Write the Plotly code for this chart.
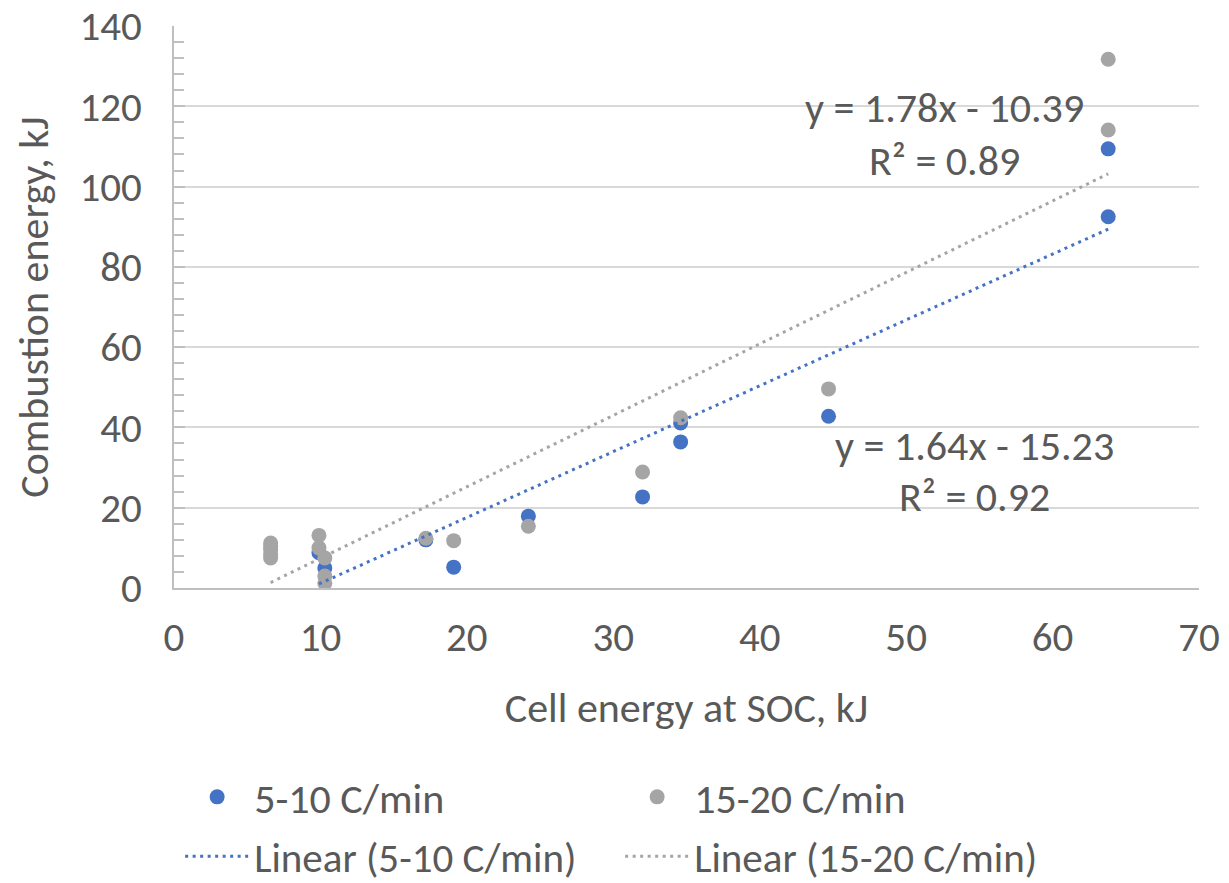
import plotly.graph_objects as go

# ---- data ----
blue_name = "5-10 C/min"
grey_name = "15-20 C/min"
blue_x = [9.9, 10.3, 17.2, 19.1, 24.2, 32.0, 34.6, 34.6, 44.7, 63.8, 63.8]
blue_y = [8.8, 5.0, 12.0, 5.2, 17.9, 22.7, 41.1, 36.4, 42.8, 109.4, 92.5]
grey_x = [6.6, 6.6, 6.6, 6.6, 6.6, 9.9, 9.9, 10.3, 10.3, 10.3, 17.2, 19.1, 24.2, 32.0, 34.6, 44.7, 63.8, 63.8]
grey_y = [11.2, 10.3, 9.5, 8.4, 7.5, 13.1, 10.0, 7.5, 3.0, 1.2, 12.4, 11.8, 15.4, 28.9, 42.4, 49.6, 131.7, 114.1]
fit_slope = [1.64, 1.78]
fit_intercept = [-15.23, -10.39]
fit_r2 = [0.92, 0.89]
x_ticks = [0, 10, 20, 30, 40, 50, 60, 70]
y_ticks = [0, 20, 40, 60, 80, 100, 120, 140]

BLUE = "#4472C4"
GREY = "#A5A5A5"
TXT = "#595959"
FONT = "Carlito, Lato, sans-serif"

fig = go.Figure()
fig.add_trace(go.Scatter(x=blue_x, y=blue_y, mode="markers", name=blue_name,
                         marker=dict(color=BLUE, size=15), legend="legend"))
fig.add_trace(go.Scatter(x=grey_x, y=grey_y, mode="markers", name=grey_name,
                         marker=dict(color=GREY, size=15), legend="legend"))

for xs, m, b, col, nm in [(blue_x, fit_slope[0], fit_intercept[0], BLUE, blue_name),
                          (grey_x, fit_slope[1], fit_intercept[1], GREY, grey_name)]:
    x0, x1 = min(xs), max(xs)
    fig.add_trace(go.Scatter(x=[x0, x1], y=[m * x0 + b, m * x1 + b], mode="lines",
                             name=f"Linear ({nm})", legend="legend2",
                             line=dict(color=col, width=3, dash="3px,4.5px")))

def eq(m, b):
    sign = "-" if b < 0 else "+"
    return f"y = {m:.2f}x {sign} {abs(b):.2f}"

ann = [
    (52.6, 119.6, eq(fit_slope[1], fit_intercept[1])),
    (52.6, 106.6, f"R² = {fit_r2[1]:.2f}"),
    (54.7, 35.6, eq(fit_slope[0], fit_intercept[0])),
    (54.7, 22.7, f"R² = {fit_r2[0]:.2f}"),
]
for ax, ay, t in ann:
    fig.add_annotation(x=ax, y=ay, text=t, showarrow=False, xref="x", yref="y",
                       font=dict(size=42, color=TXT, family=FONT))

fig.update_layout(
    width=1221, height=875,
    margin=dict(l=166, r=30, t=18, b=295, autoexpand=False),
    paper_bgcolor="white", plot_bgcolor="white",
    font=dict(family=FONT, color=TXT, size=41),
    xaxis=dict(range=[0, 70], tickvals=x_ticks, showgrid=False, zeroline=False,
               showline=True, linecolor="#BFBFBF", linewidth=2, ticks="",
               ticklabelstandoff=12, ticklabeloverflow="allow",
               tickfont=dict(size=41, color=TXT), automargin=False,
               title=dict(text="Cell energy at SOC, kJ", font=dict(size=42, color=TXT), standoff=31)),
    yaxis=dict(range=[0, 140], tickvals=y_ticks, showgrid=True, gridcolor="#D9D9D9", gridwidth=1.5,
               zeroline=False, showline=True, linecolor="#BFBFBF", linewidth=2,
               ticks="inside", ticklen=11, tickcolor="#BFBFBF", tickwidth=1.5,
               ticklabelstandoff=22, ticklabeloverflow="allow", automargin=False,
               minor=dict(dtick=4, ticks="inside", ticklen=10, tickcolor="#BFBFBF", tickwidth=1.5, showgrid=False),
               tickfont=dict(size=41, color=TXT),
               title=dict(text="Combustion energy, kJ", font=dict(size=42, color=TXT), standoff=18)),
    legend=dict(orientation="h", x=0.006, xanchor="left", y=-0.372, yanchor="middle",
                entrywidth=361, entrywidthmode="pixels", font=dict(size=42, color=TXT),
                itemwidth=64, bgcolor="rgba(0,0,0,0)"),
    legend2=dict(orientation="h", x=0.006, xanchor="left", y=-0.478, yanchor="middle",
                 entrywidth=361, entrywidthmode="pixels", font=dict(size=41, color=TXT),
                 itemwidth=64, bgcolor="rgba(0,0,0,0)"),
    showlegend=True,
)

fig.write_html("out.html")
